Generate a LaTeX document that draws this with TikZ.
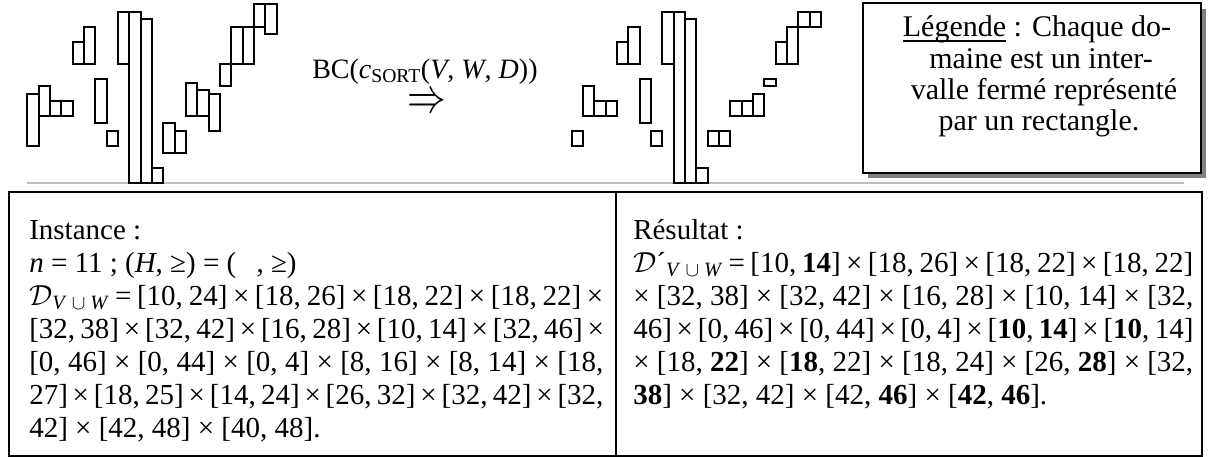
\RequirePackage{fix-cm}
\documentclass[tikz,border=0pt]{standalone}
\usepackage{fontspec}
\setmainfont{Liberation Serif}
\usepackage{graphicx}
\newcommand\ulword[1]{\setbox0\hbox{#1}\rlap{\rule[-3.6pt]{\wd0}{1.1pt}}#1}
\begin{document}
\begin{tikzpicture}[x=0.75pt,y=-0.75pt,
  bar/.style={draw=black,line width=1.5pt},
  boxline/.style={draw=black,line width=1.5pt},
  txt/.style={inner sep=0pt,anchor=base west,font=\fontsize{21.75pt}{25.9pt}\selectfont},
  ttl/.style={inner sep=0pt,anchor=base west,font=\fontsize{21pt}{25pt}\selectfont},
  leg/.style={inner sep=0pt,anchor=base,font=\fontsize{22.5pt}{23.25pt}\selectfont}]
\useasboundingbox (0,0) rectangle (1208,457);
% baseline
\draw[line width=1.7pt,color=black!25] (27,183.3) -- (1184,183.3);
% left domains
\foreach \lo/\hi [count=\i] in {10/24,18/26,18/22,18/22,32/38,32/42,16/28,10/14,32/46,0/46,0/44,0/4,8/16,8/14,18/27,18/25,14/24,26/32,32/42,32/42,42/48,40/48}
  \draw[bar] ({27.3+(\i-1)*11.33},{183-\lo*3.72}) rectangle ({27.3+\i*11.33},{183-\hi*3.72});
% right domains
\foreach \lo/\hi [count=\i] in {10/14,18/26,18/22,18/22,32/38,32/42,16/28,10/14,32/46,0/46,0/44,0/4,10/14,10/14,18/22,18/22,18/24,26/28,32/38,32/42,42/46,42/46}
  \draw[bar] ({571.7+(\i-1)*11.33},{183-\lo*3.72}) rectangle ({571.7+\i*11.33},{183-\hi*3.72});
% title and arrow
\node[ttl] (title) at (312,78) {BC(\textit{c}\textsubscript{SORT}(\textit{V}, \textit{W}, \textit{D}))};
\node[inner sep=0pt] (arrow) at (427,103.5) {\resizebox{29pt}{13.5pt}{$\Rightarrow$}};
% legend
\fill[color=black!50] (868,9) rectangle (1206,178);
\draw[boxline,fill=white] (862.5,3.3) rectangle (1200.5,172.5);
\node[leg] (g1) at (1037,36.7) {\ulword{Légende} : Chaque do-};
\node[leg] (g2) at (1041,68.3) {maine est un inter-};
\node[leg] (g3) at (1044,99.3) {valle fermé représenté};
\node[leg] (g4) at (1039,130.3) {par un rectangle.};
% bottom boxes
\draw[boxline] (9,192.3) rectangle (615.7,455.5);
\draw[boxline] (615.7,192.3) rectangle (1201.7,455.5);
% left text
\node[txt] (l1) at (29,239) {Instance :};
\node[txt] (l2) at (29,272) {\textit{n} = 11 ; (\textit{H}, ≥) = (\hspace{0.7em}, ≥)};
\node[txt] (l3) at (29,305) {\makebox[430.5pt][s]{$\mathcal{D}$\textsubscript{\textit{V} $\cup$ \textit{W}} = [10, 24] × [18, 26] × [18, 22] × [18, 22] ×}};
\node[txt] (l4) at (29,338) {\makebox[430.5pt][s]{[32, 38] × [32, 42] × [16, 28] × [10, 14] × [32, 46] ×}};
\node[txt] (l5) at (29,371) {\makebox[430.5pt][s]{[0, 46] × [0, 44] × [0, 4] × [8, 16] × [8, 14] × [18,}};
\node[txt] (l6) at (29,404) {\makebox[430.5pt][s]{27] × [18, 25] × [14, 24] × [26, 32] × [32, 42] × [32,}};
\node[txt] (l7) at (29,437) {42] × [42, 48] × [40, 48].};
% right text
\node[txt] (r1) at (633,239) {Résultat :};
\node[txt] (r2) at (633,272) {\makebox[420pt][s]{$\mathcal{D}$´\textsubscript{\textit{V} $\cup$ \textit{W}} = [10, \textbf{14}] × [18, 26] × [18, 22] × [18, 22]}};
\node[txt] (r3) at (633,305) {\makebox[420pt][s]{× [32, 38] × [32, 42] × [16, 28] × [10, 14] × [32,}};
\node[txt] (r4) at (633,338) {\makebox[420pt][s]{46] × [0, 46] × [0, 44] × [0, 4] × [\textbf{10}, \textbf{14}] × [\textbf{10}, 14]}};
\node[txt] (r5) at (633,371) {\makebox[420pt][s]{× [18, \textbf{22}] × [\textbf{18}, 22] × [18, 24] × [26, \textbf{28}] × [32,}};
\node[txt] (r6) at (633,404) {\textbf{38}] × [32, 42] × [42, \textbf{46}] × [\textbf{42}, \textbf{46}].};
\end{tikzpicture}
\end{document}
